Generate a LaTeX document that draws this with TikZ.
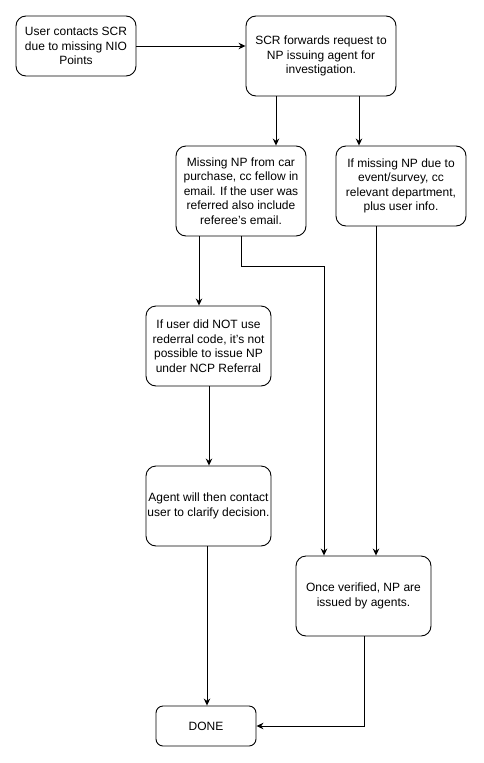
\documentclass[tikz,border=0pt]{standalone}
\usepackage{fontspec}
\setmainfont{Liberation Sans}
\usetikzlibrary{arrows.meta}
\newcommand{\sq}{{\char"0027}}
\begin{document}
\begin{tikzpicture}[x=1pt,y=-1pt,
  box/.style={draw=black,line width=0.9pt,fill=white,rounded corners=10pt,align=center,inner sep=0pt,
    font=\fontsize{12}{14.5}\selectfont},
  arr/.style={draw=black,line width=0.9pt,-{Stealth[length=7pt,width=6.5pt]}},
  ln/.style={draw=black,line width=0.9pt}]
\useasboundingbox (0,0) rectangle (483,763);
\fill[white] (0,0) rectangle (483,763);
\node[box,minimum width=120pt,minimum height=60pt] (b1) at (76,46) {User contacts SCR\\due to missing NIO\\Points};
\node[box,minimum width=150pt,minimum height=80pt] (b2) at (321,56) {SCR forwards request to\\NP issuing agent for\\investigation.};
\node[box,minimum width=130pt,minimum height=90pt] (b3) at (241,191) {Missing NP from car\\purchase, cc fellow in\\email. If the user was\\referred also include\\referee\sq s email.};
\node[box,minimum width=130pt,minimum height=80pt] (b4) at (401,186) {If missing NP due to\\event/survey, cc\\relevant department,\\plus user info.};
\node[box,minimum width=125pt,minimum height=80pt] (b5) at (208.5,346) {If user did NOT use\\rederral code, it\sq s not\\possible to issue NP\\under NCP Referral};
\node[box,minimum width=125pt,minimum height=80pt] (b6) at (208.5,506) {Agent will then contact\\user to clarify decision.};
\node[box,minimum width=135pt,minimum height=80pt] (b7) at (363.5,596) {Once verified, NP are\\issued by agents.};
\node[box,rounded corners=7pt,minimum width=100pt,minimum height=40pt] (done) at (206,726) {DONE};
\coordinate (x276) at (276,0);
\coordinate (x359) at (359,0);
\coordinate (x199) at (199,0);
\coordinate (x241) at (241,0);
\coordinate (x324) at (324,0);
\coordinate (x376) at (376,0);
\coordinate (x209) at (209,0);
\coordinate (x207) at (207,0);
\coordinate (x364) at (364,0);
\coordinate (tA) at (241,266);
\coordinate (tB) at (324,266);
\draw[arr] (b1.east) -- (b1.east -| b2.west);
\draw[arr] (b2.south -| x276) -- (b3.north -| x276);
\draw[arr] (b2.south -| x359) -- (b4.north -| x359);
\draw[arr] (b3.south -| x199) -- (b5.north -| x199);
\draw[arr] (b3.south -| x241) -- (tA) -- (tB) -- (b7.north -| x324);
\draw[arr] (b4.south -| x376) -- (b7.north -| x376);
\draw[arr] (b5.south -| x209) -- (b6.north -| x209);
\draw[arr] (b6.south -| x207) -- (done.north -| x207);
\draw[arr] (b7.south -| x364) |- (done.east);
\end{tikzpicture}
\end{document}
